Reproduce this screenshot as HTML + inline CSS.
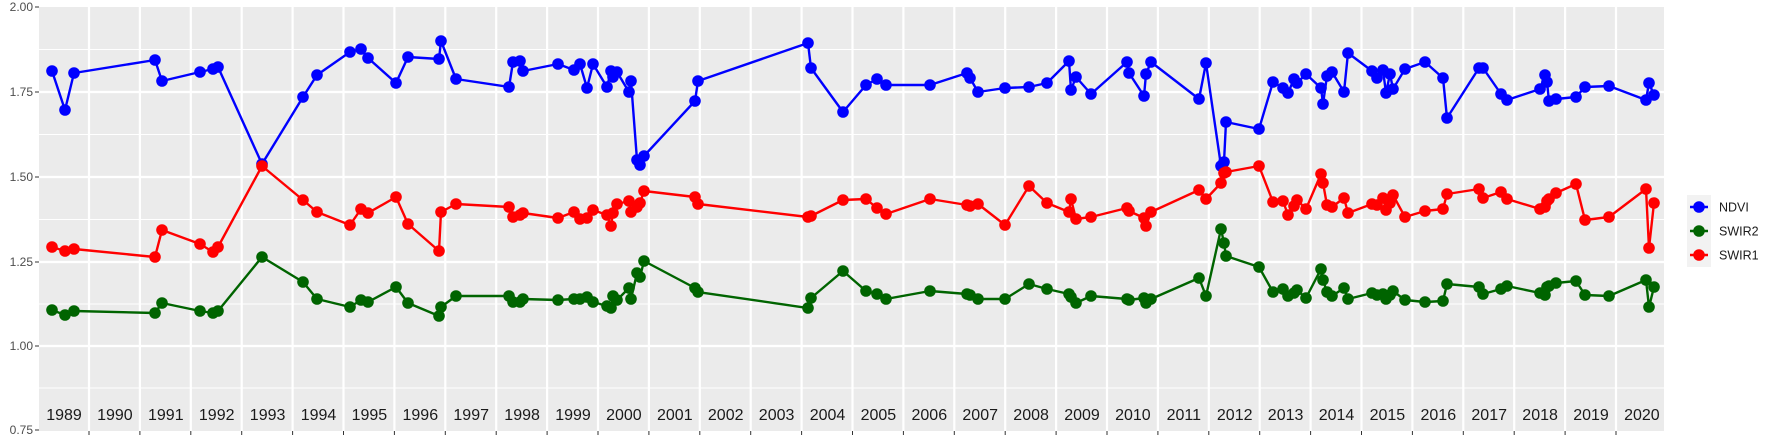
<!DOCTYPE html>
<html><head><meta charset="utf-8"><style>
html,body{margin:0;padding:0;background:#fff;}
svg{display:block;font-family:"Liberation Sans",sans-serif;}
</style></head><body>
<svg id="s" width="1773" height="442" xmlns="http://www.w3.org/2000/svg"></svg>
<script>
const s=document.getElementById('s');let h='';
const L=39,R=1664,T=7,B=431;
h+=`<rect x="${L}" y="${T}" width="${R-L}" height="${B-T}" fill="#ebebeb"/>`;
[49.5,134.5,219.5,304,388].forEach(y=>h+=`<line x1="${L}" x2="${R}" y1="${y}" y2="${y}" stroke="#fff" stroke-width="1"/>`);
[92,177,262,346].forEach(y=>h+=`<line x1="${L}" x2="${R}" y1="${y}" y2="${y}" stroke="#fff" stroke-width="2.2"/>`);
const yl=[[7,'2.00'],[92,'1.75'],[177,'1.50'],[262,'1.25'],[346,'1.00'],[430,'0.75']];
yl.forEach(([y,t])=>{h+=`<line x1="35" x2="39" y1="${y}" y2="${y}" stroke="#333" stroke-width="1"/><text x="33" y="${y+4}" font-size="12" fill="#4d4d4d" text-anchor="end">${t}</text>`;});
for(let k=0;k<=30;k++){const x=89+50.9*k;h+=`<line x1="${x}" x2="${x}" y1="${T}" y2="${B}" stroke="#fff" stroke-width="2.2"/><line x1="${x}" x2="${x}" y1="${B}" y2="${B+4}" stroke="#333" stroke-width="1"/>`;}
for(let k=0;k<32;k++){const x=64+50.9*k;h+=`<text x="${x}" y="420" font-size="16" fill="#1a1a1a" text-anchor="middle">${1989+k}</text>`;}
const blue=[[52,71],[65,110],[74,73],[155,60],[162,81],[200,72],[213,69],[218,67],[262,164],[303,97],[317,75],[350,52],[361,49],[368,58],[396,83],[408,57],[439,59],[441,41],[456,79],[509,87],[513,62],[520,61],[523,71],[558,64],[574,70],[580,64],[587,88],[593,64],[607,87],[611,71],[613,77],[617,72],[629,92],[631,81],[637,160],[640,165],[644,156],[695,101],[698,81],[808,43],[811,68],[843,112],[866,85],[877,79],[886,85],[930,85],[967,73],[970,78],[978,92],[1005,88],[1029,87],[1047,83],[1069,61],[1071,90],[1076,77],[1091,94],[1127,62],[1129,73],[1144,96],[1146,74],[1151,62],[1199,99],[1206,63],[1221,166],[1224,162],[1226,122],[1259,129],[1273,82],[1283,88],[1288,93],[1294,79],[1297,83],[1306,74],[1321,88],[1323,104],[1327,76],[1332,72],[1344,92],[1348,53],[1372,71],[1377,78],[1383,70],[1386,93],[1390,74],[1393,89],[1405,69],[1425,62],[1443,78],[1447,118],[1479,68],[1483,68],[1501,94],[1507,100],[1540,89],[1545,75],[1547,82],[1549,101],[1556,99],[1576,97],[1585,87],[1609,86],[1646,100],[1649,83],[1654,95]];
const red=[[52,247],[65,251],[74,249],[155,257],[162,230],[200,244],[213,252],[218,247],[262,166],[303,200],[317,212],[350,225],[361,209],[368,213],[396,197],[408,224],[439,251],[441,212],[456,204],[509,207],[513,217],[520,215],[523,213],[558,218],[574,212],[580,219],[587,218],[593,210],[607,215],[611,226],[613,213],[617,204],[629,201],[631,212],[637,207],[640,203],[644,191],[695,197],[698,204],[808,217],[811,216],[843,200],[866,199],[877,208],[886,214],[930,199],[967,205],[970,206],[978,204],[1005,225],[1029,186],[1047,203],[1069,212],[1071,199],[1076,219],[1091,217],[1127,208],[1129,211],[1144,218],[1146,226],[1151,212],[1199,190],[1206,199],[1221,183],[1224,173],[1226,172],[1259,166],[1273,202],[1283,201],[1288,215],[1294,206],[1297,200],[1306,209],[1321,174],[1323,183],[1327,205],[1332,207],[1344,198],[1348,213],[1372,204],[1377,205],[1383,198],[1386,210],[1390,203],[1393,195],[1405,217],[1425,211],[1443,209],[1447,194],[1479,189],[1483,198],[1501,192],[1507,199],[1540,209],[1545,207],[1547,201],[1549,199],[1556,193],[1576,184],[1585,220],[1609,217],[1646,189],[1649,248],[1654,203]];
const green=[[52,310],[65,315],[74,311],[155,313],[162,303],[200,311],[213,313],[218,311],[262,257],[303,282],[317,299],[350,307],[361,300],[368,302],[396,287],[408,303],[439,316],[441,307],[456,296],[509,296],[513,302],[520,302],[523,299],[558,300],[574,299],[580,299],[587,297],[593,302],[607,306],[611,308],[613,296],[617,300],[629,288],[631,299],[637,273],[640,277],[644,261],[695,288],[698,292],[808,308],[811,298],[843,271],[866,291],[877,294],[886,299],[930,291],[967,294],[970,295],[978,299],[1005,299],[1029,284],[1047,289],[1069,294],[1071,297],[1076,303],[1091,296],[1127,299],[1129,300],[1144,298],[1146,303],[1151,299],[1199,278],[1206,296],[1221,229],[1224,243],[1226,256],[1259,267],[1273,292],[1283,289],[1288,296],[1294,293],[1297,290],[1306,298],[1321,269],[1323,280],[1327,292],[1332,296],[1344,288],[1348,299],[1372,293],[1377,295],[1383,294],[1386,299],[1390,295],[1393,291],[1405,300],[1425,302],[1443,301],[1447,284],[1479,287],[1483,294],[1501,289],[1507,286],[1540,293],[1545,295],[1547,287],[1549,286],[1556,283],[1576,281],[1585,295],[1609,296],[1646,280],[1649,307],[1654,287]];
function ser(d,c){let p=d.map(a=>a.join(',')).join(' ');let o=`<polyline points="${p}" fill="none" stroke="${c}" stroke-width="2.4" stroke-linejoin="round"/>`;d.forEach(([x,y])=>o+=`<circle cx="${x}" cy="${y}" r="5.8" fill="${c}"/>`);return o;}
h+=ser(blue,'#0000ff')+ser(green,'#006400')+ser(red,'#ff0000');
h+=`<rect x="1687" y="195" width="24" height="72" fill="#f2f2f2"/>`;
[[207,'#0000ff','NDVI'],[231,'#006400','SWIR2'],[255,'#ff0000','SWIR1']].forEach(([y,c,t])=>{h+=`<line x1="1690" x2="1708" y1="${y}" y2="${y}" stroke="${c}" stroke-width="2.4"/><circle cx="1699" cy="${y}" r="5.8" fill="${c}"/><text x="1719" y="${y+4.5}" font-size="12.5" fill="#1a1a1a">${t}</text>`;});
s.innerHTML=h;
</script>
</body></html>
